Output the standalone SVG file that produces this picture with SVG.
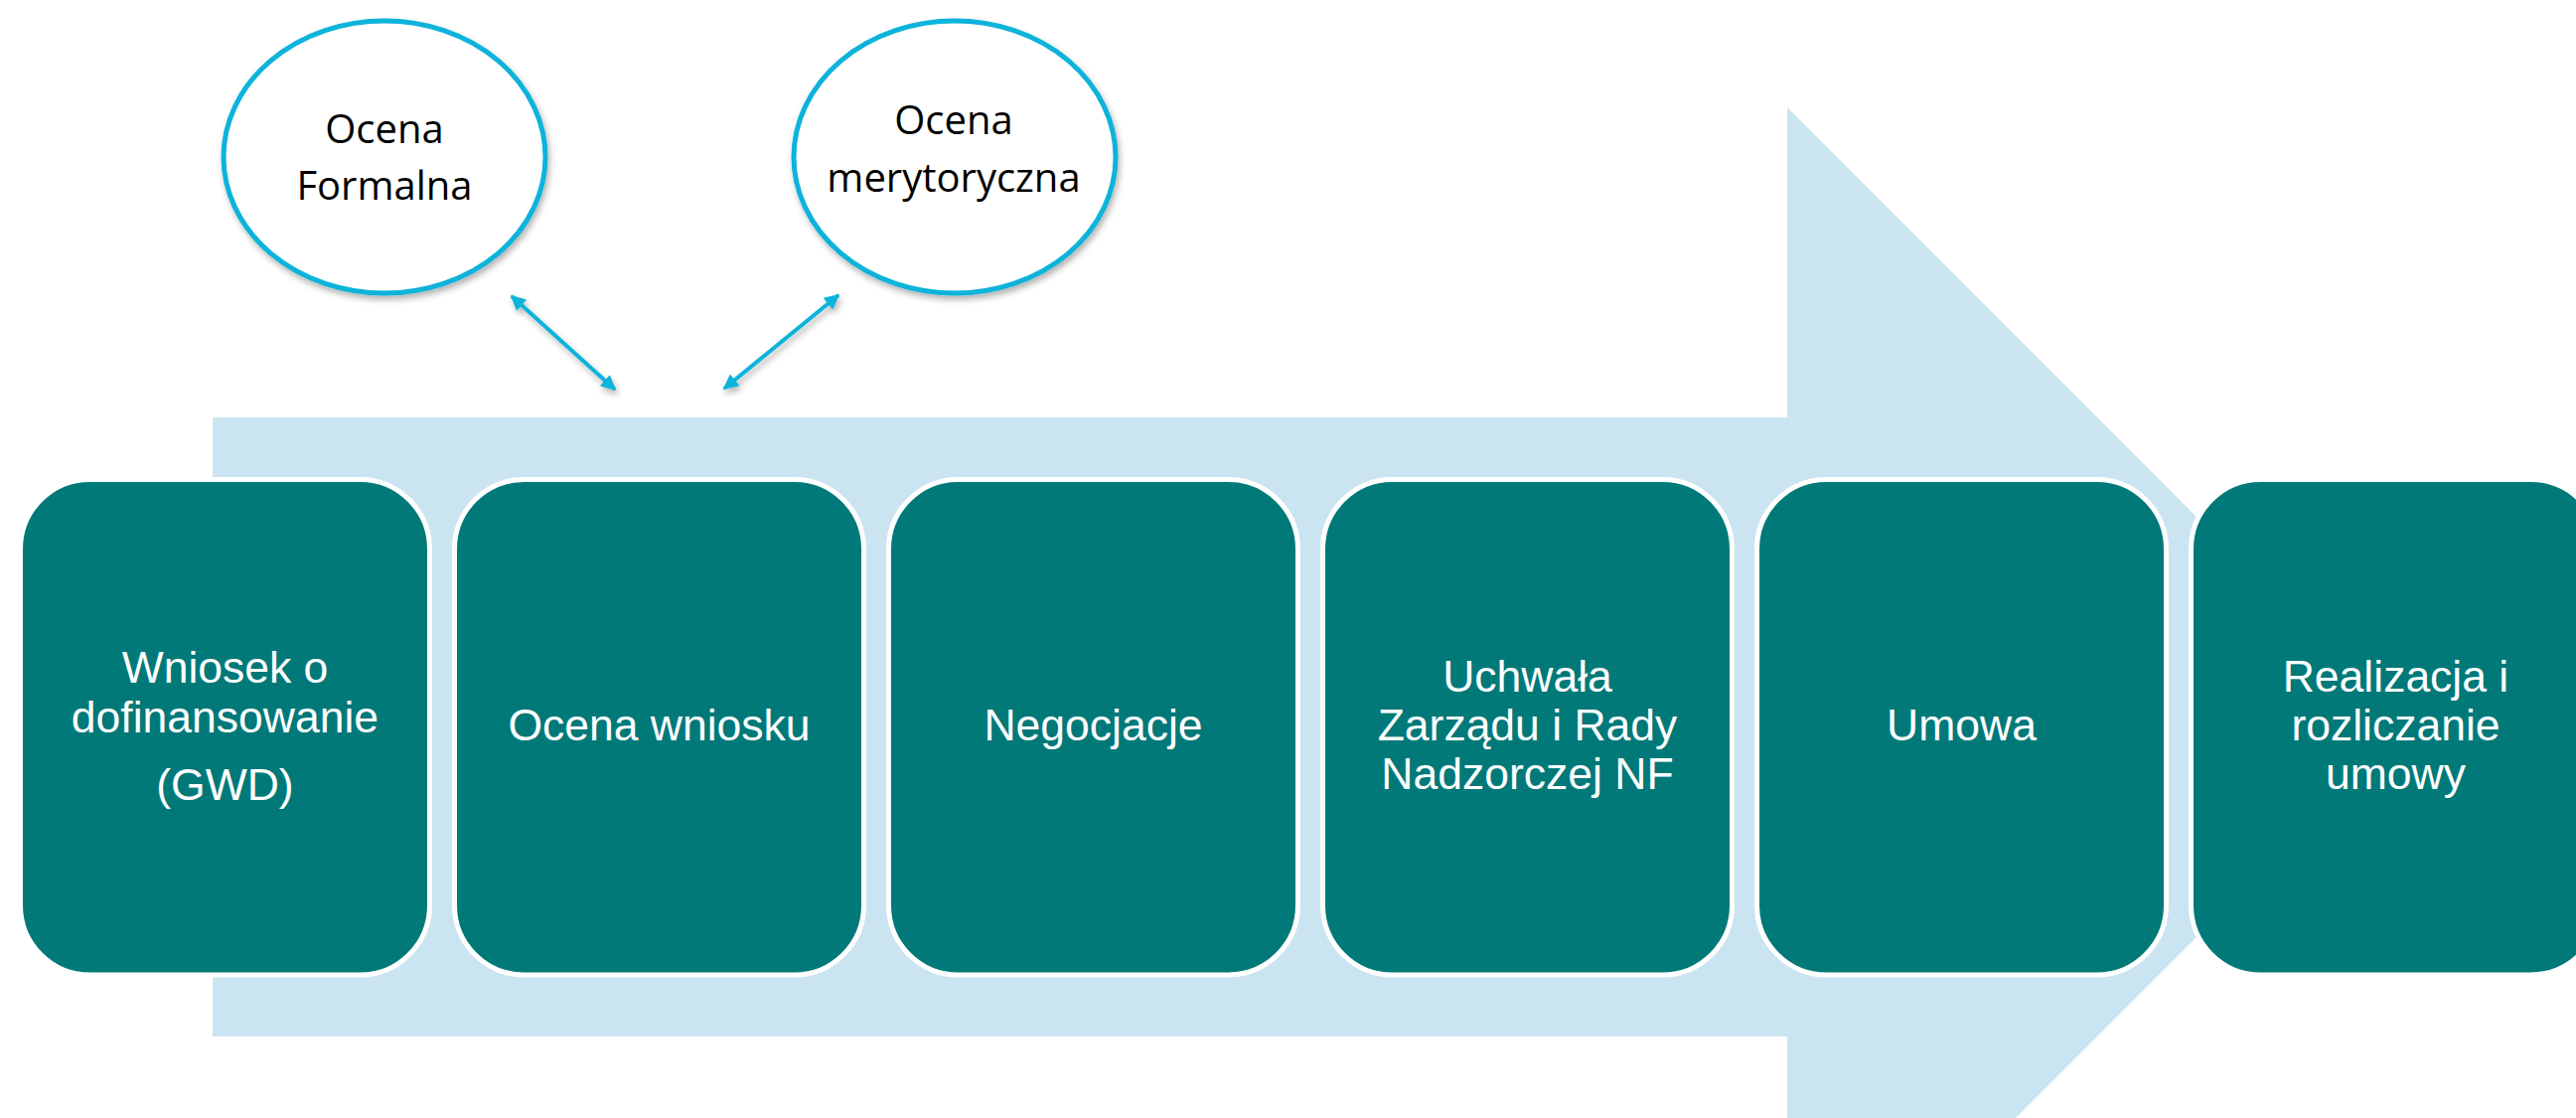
<svg xmlns="http://www.w3.org/2000/svg" width="2593" height="1125" viewBox="0 0 2593 1125">
<defs>
<style>
.box{fill:#027979;stroke:#ffffff;stroke-width:5}
.bt{font-family:"Liberation Sans",Arial,sans-serif;font-size:44.5px;fill:#ffffff;text-anchor:middle}
.ell{fill:#ffffff;stroke:#0fb3da;stroke-width:5}
.et{font-family:"Open Sans","Noto Sans",sans-serif;font-size:40px;fill:#000000;text-anchor:middle}
.con{stroke:#0fb3da;stroke-width:4;fill:none}
</style>
<filter id="sh" x="-20%" y="-20%" width="140%" height="140%">
<feDropShadow dx="2" dy="4" stdDeviation="3" flood-color="#000000" flood-opacity="0.3"/>
</filter>
<marker id="ah" viewBox="0 0 10 10" refX="9" refY="5" markerWidth="4.2" markerHeight="3.8" orient="auto-start-reverse" markerUnits="strokeWidth">
<path d="M0,0 L10,5 L0,10 z" fill="#0fb3da"/>
</marker>
</defs>
<rect width="2593" height="1125" fill="#ffffff"/>
<g id="band">
<polygon points="214,420 1799,420 1799,108 2422.5,731.5 1799,1355 1799,1043 214,1043" fill="#cbe4f1"/>
</g>
<g id="connectors" filter="url(#sh)">
<line class="con" x1="515" y1="298" x2="619" y2="392" marker-start="url(#ah)" marker-end="url(#ah)"/>
<line class="con" x1="844" y1="297" x2="729" y2="391" marker-start="url(#ah)" marker-end="url(#ah)"/>
</g>
<g id="node-formalna">
<ellipse class="ell" cx="387" cy="158" rx="162" ry="137" filter="url(#sh)"/>
<text class="et" x="387" y="144">Ocena</text>
<text class="et" x="387" y="201">Formalna</text>
</g>
<g id="node-merytoryczna">
<ellipse class="ell" cx="961" cy="158" rx="162" ry="137" filter="url(#sh)"/>
<text class="et" x="960" y="135">Ocena</text>
<text class="et" x="960" y="193">merytoryczna</text>
</g>
<g id="node-wniosek">
<rect class="box" x="20.5" y="482.5" width="412" height="498.5" rx="70" ry="70"/>
<text class="bt" x="226.5" y="687">Wniosek o</text>
<text class="bt" x="226.5" y="737">dofinansowanie</text>
<text class="bt" x="226.5" y="805">(GWD)</text>
</g>
<g id="node-ocena">
<rect class="box" x="457.5" y="482.5" width="412" height="498.5" rx="70" ry="70"/>
<text class="bt" x="663.5" y="745">Ocena wniosku</text>
</g>
<g id="node-negocjacje">
<rect class="box" x="894.5" y="482.5" width="412" height="498.5" rx="70" ry="70"/>
<text class="bt" x="1100.5" y="745">Negocjacje</text>
</g>
<g id="node-uchwala">
<rect class="box" x="1331.5" y="482.5" width="412" height="498.5" rx="70" ry="70"/>
<text class="bt" x="1537.5" y="696">Uchwała</text>
<text class="bt" x="1537.5" y="745">Zarządu i Rady</text>
<text class="bt" x="1537.5" y="794">Nadzorczej NF</text>
</g>
<g id="node-umowa">
<rect class="box" x="1768.5" y="482.5" width="412" height="498.5" rx="70" ry="70"/>
<text class="bt" x="1974.5" y="745">Umowa</text>
</g>
<g id="node-realizacja">
<rect class="box" x="2205.5" y="482.5" width="412" height="498.5" rx="70" ry="70"/>
<text class="bt" x="2411.5" y="696">Realizacja i</text>
<text class="bt" x="2411.5" y="745">rozliczanie</text>
<text class="bt" x="2411.5" y="794">umowy</text>
</g>
</svg>
